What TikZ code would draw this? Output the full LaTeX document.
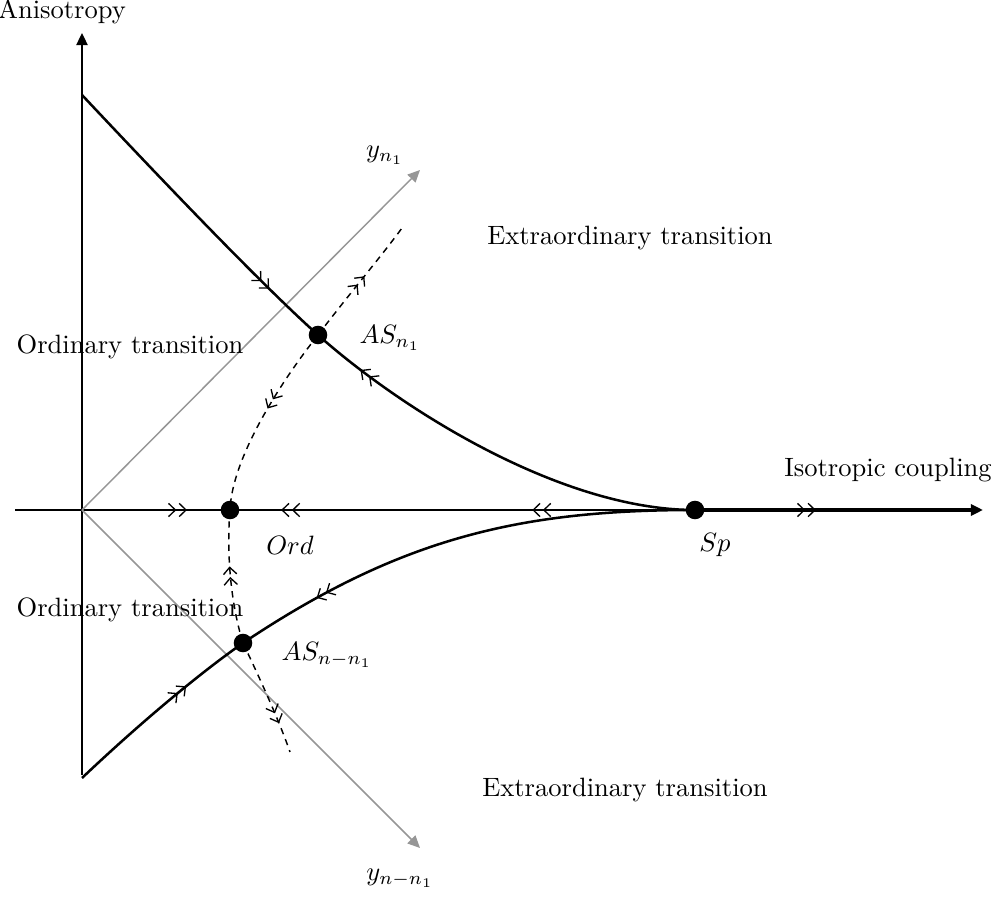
\documentclass[tikz,border=0pt]{standalone}
\usepackage{amsmath}
\usepackage{tikz}
\usetikzlibrary{arrows.meta,decorations.markings}
\definecolor{rgaxis}{RGB}{0,0,0}
\definecolor{rgdir}{RGB}{150,150,150}
\tikzset{
  flow/.style={line width=0.95pt, draw=rgaxis},
  axisarr/.style={line width=0.95pt, -{Triangle[length=4.6pt,width=4.2pt]}},
  dirarr/.style={draw=rgdir, line width=0.55pt, -{Triangle[length=4.6pt,width=4.2pt]}},
  sep/.style={line width=0.55pt, dash pattern=on 2.4pt off 2pt},
  fp/.style={circle, fill=black, inner sep=0pt, minimum size=7pt},
  lbl/.style={font=\normalsize},
  mk/.style={postaction={decorate, decoration={markings,
    mark=at position #1 with {\arrow{Straight Barb[length=2.6pt,width=5pt,line width=0.5pt,sep=0.8pt]Straight Barb[length=2.6pt,width=5pt,line width=0.5pt]}}}}},
  every picture/.append style={line join=round}
}
\begin{document}
\begin{tikzpicture}[x=0.377pt, y=0.377pt]
  \useasboundingbox (0,0) rectangle (1000,898);

  % fixed points
  \coordinate (O) at (82,388);
  \node[fp] (ord) at (230,388) {};
  \node[fp] (sp)  at (695,388) {};
  \node[fp] (as1) at (318,563) {};
  \node[fp] (as2) at (243,255) {};

  % axes
  \coordinate (hstart) at (15,388);
  \coordinate (hend) at (983,388);
  \coordinate (vbot) at (82,123);
  \coordinate (vtop) at (82,865);
  \draw[axisarr] (vbot) -- (vtop);
  \draw[flow, mk=0.8] (hstart) -- (ord.center);
  \draw[flow, mk=0.35, mk=0.89] (sp.center) -- (ord.center);
  \draw[line width=1.7pt, -{Triangle[length=4.6pt,width=4.2pt]},
    mk=0.42] (sp.center) -- (hend);

  % eigen directions
  \coordinate (d1) at (420,728);
  \coordinate (d2) at (420,50);
  \draw[dirarr] (O) -- (d1);
  \draw[dirarr] (O) -- (d2);

  % separatrices
  \coordinate (ustart) at (82,803);
  \coordinate (lstart) at (82,120);
  \draw[flow, mk=0.8] (ustart) .. controls (160,720) and (260,615) .. (as1.center);
  \draw[flow, mk=0.87] (sp.center) .. controls (560,388) and (400,490) .. (as1.center);
  \draw[flow, mk=0.66] (lstart) .. controls (140,175) and (200,225) .. (as2.center);
  \draw[flow, mk=0.82] (sp.center) .. controls (520,388) and (400,360) .. (as2.center);

  % dashed flows
  \coordinate (dtop) at (402,670);
  \coordinate (dbot) at (290,146);
  \draw[sep, mk=0.55] (as1.center) .. controls (350,605) and (380,640) .. (dtop);
  \draw[sep, mk=0.45] (as1.center) .. controls (280,515) and (232,440) .. (ord.center);
  \draw[sep, mk=0.58] (as2.center) .. controls (232,290) and (226,340) .. (ord.center);
  \draw[sep, mk=0.74] (as2.center) .. controls (262,215) and (280,175) .. (dbot);

  % labels
  \node[lbl] (aniso) at (62,886) {Anisotropy};
  \node[lbl] (iso) at (888,428) {Isotropic coupling};
  \node[lbl] (yn1) at (385,743) {$y_{n_1}$};
  \node[lbl] (ynn1) at (400,20) {$y_{n-n_1}$};
  \node[lbl] (ext1) at (630,660) {Extraordinary transition};
  \node[lbl] (ext2) at (625,108) {Extraordinary transition};
  \node[lbl] (ordt1) at (130,551) {Ordinary transition};
  \node[lbl] (ordt2) at (130,288) {Ordinary transition};
  \node[lbl] (las1) at (390,560) {$AS_{n_1}$};
  \node[lbl] (las2) at (327,243) {$AS_{n-n_1}$};
  \node[lbl] (lord) at (290,353) {$Ord$};
  \node[lbl] (lsp) at (715,353) {$Sp$};
\end{tikzpicture}
\end{document}
